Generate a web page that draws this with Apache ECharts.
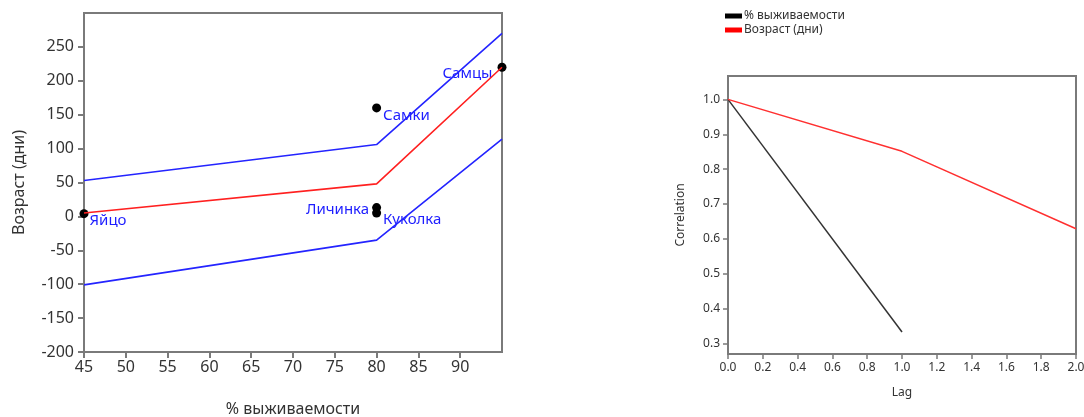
<!DOCTYPE html>
<html lang="ru">
<head>
<meta charset="UTF-8">
<title>Возраст и выживаемость</title>
<script src="https://cdn.jsdelivr.net/npm/echarts@6/dist/echarts.min.js"></script>
<style>
  html, body { margin: 0; padding: 0; background: #fff; }
  #main { width: 1084px; height: 417px; }
</style>
</head>
<body>
<div id="main"></div>
<script>
// left panel: regression of age on survival
var survivalX = [45, 80, 95];
var fitAge = [5, 48, 220];
var upperAge = [53, 106, 270];
var lowerAge = [-101, -35, 114];

var stageNames = ['Яйцо', 'Личинка', 'Куколка', 'Самки', 'Самцы'];
var stageSurvival = [45, 80, 80, 80, 95];
var stageAge = [4, 13, 5, 160, 220];

var leftXTicks = [45, 50, 55, 60, 65, 70, 75, 80, 85, 90];
var leftYTicks = [-200, -150, -100, -50, 0, 50, 100, 150, 200, 250];

// right panel: autocorrelation
var lags = [0, 1, 2];
var acfSurvival = [1.0, 0.333];
var acfAge = [1.0, 0.851, 0.629];
var rightYTicks = [0.3, 0.4, 0.5, 0.6, 0.7, 0.8, 0.9, 1.0];

var font = 'Noto Sans';
var frame = '#7a7a7a';

// label placement per stage
var labelPos = {
  'Яйцо':    { position: 'right', distance: 1, offset: [0, 7] },
  'Личинка': { position: 'left',  distance: 3, offset: [0, 2] },
  'Куколка': { position: 'right', distance: 2, offset: [0, 7] },
  'Самки':   { position: 'right', distance: 2, offset: [0, 8] },
  'Самцы':   { position: 'left',  distance: 5, offset: [0, 6] }
};

var points = [];
for (var i = 0; i < stageNames.length; i++) {
  var lp = labelPos[stageNames[i]];
  points.push({
    name: stageNames[i],
    value: [stageSurvival[i], stageAge[i]],
    label: { position: lp.position, distance: lp.distance, offset: lp.offset }
  });
}

function pairs(xs, ys) {
  var out = [];
  for (var i = 0; i < ys.length; i++) out.push([xs[i], ys[i]]);
  return out;
}

var chart = echarts.init(document.getElementById('main'));
chart.setOption({
  animation: false,
  textStyle: { fontFamily: font },
  legend: {
    data: ['% выживаемости', 'Возраст (дни)'],
    orient: 'vertical',
    left: 720, top: 5,
    icon: 'rect',
    itemWidth: 17, itemHeight: 5,
    itemGap: 2,
    textStyle: { fontSize: 12, color: '#333', fontFamily: font, padding: [0, 0, 0, -3] }
  },
  grid: [
    { left: 84, right: 582, top: 13, bottom: 65, show: true, borderColor: frame, borderWidth: 2,
      outerBoundsMode: 'none' },
    { left: 728, right: 8, top: 76, bottom: 63, show: true, borderColor: frame, borderWidth: 2,
      outerBoundsMode: 'none' }
  ],
  xAxis: [
    {
      gridIndex: 0, type: 'value', min: 45, max: 95,
      name: '% выживаемости', nameLocation: 'middle', nameGap: 49,
      nameTextStyle: { fontSize: 16, color: '#333' },
      axisLine: { show: false, onZero: false },
      axisTick: { show: true, length: 6, lineStyle: { color: frame, width: 2 }, customValues: leftXTicks },
      axisLabel: { fontSize: 16, color: '#333', margin: 7, customValues: leftXTicks },
      splitLine: { show: false }
    },
    {
      gridIndex: 1, type: 'value', min: 0, max: 2, interval: 0.2,
      name: 'Lag', nameLocation: 'middle', nameGap: 33,
      nameTextStyle: { fontSize: 12, color: '#333' },
      axisLine: { show: false, onZero: false },
      axisTick: { show: true, length: 5, lineStyle: { color: frame, width: 1.5 } },
      axisLabel: { fontSize: 12, color: '#333', margin: 8, showMaxLabel: true,
        formatter: function (v) { return v.toFixed(1); } },
      splitLine: { show: false }
    }
  ],
  yAxis: [
    {
      gridIndex: 0, type: 'value', min: -200, max: 300,
      name: 'Возраст (дни)', nameLocation: 'middle', nameGap: 57, nameRotate: 90,
      nameTextStyle: { fontSize: 16, color: '#333' },
      axisLine: { show: false, onZero: false },
      axisTick: { show: true, length: 6, lineStyle: { color: frame, width: 2 }, customValues: leftYTicks },
      axisLabel: { fontSize: 16, color: '#333', margin: 10, customValues: leftYTicks },
      splitLine: { show: false }
    },
    {
      gridIndex: 1, type: 'value', min: 0.27, max: 1.067,
      name: 'Correlation', nameLocation: 'middle', nameGap: 41, nameRotate: 90,
      nameTextStyle: { fontSize: 12, color: '#333' },
      axisLine: { show: false, onZero: false },
      axisTick: { show: true, length: 5, lineStyle: { color: frame, width: 1.5 }, customValues: rightYTicks },
      axisLabel: { fontSize: 12, color: '#333', margin: 8, customValues: rightYTicks,
        formatter: function (v) { return v.toFixed(1); } },
      splitLine: { show: false }
    }
  ],
  series: [
    {
      type: 'line', xAxisIndex: 0, yAxisIndex: 0, data: pairs(survivalX, upperAge),
      showSymbol: false, lineStyle: { color: '#2424ff', width: 1.6 }, silent: true
    },
    {
      type: 'line', xAxisIndex: 0, yAxisIndex: 0, data: pairs(survivalX, lowerAge),
      showSymbol: false, lineStyle: { color: '#2424ff', width: 1.6 }, silent: true
    },
    {
      type: 'line', xAxisIndex: 0, yAxisIndex: 0, data: pairs(survivalX, fitAge),
      showSymbol: false, lineStyle: { color: '#ff2020', width: 1.6 }, silent: true
    },
    {
      type: 'scatter', xAxisIndex: 0, yAxisIndex: 0, data: points,
      symbolSize: 9, itemStyle: { color: '#000', opacity: 1 }, clip: false,
      label: { show: true, formatter: '{b}', color: '#1e1eff', fontSize: 15, fontFamily: font }
    },
    {
      name: '% выживаемости', type: 'line', xAxisIndex: 1, yAxisIndex: 1,
      data: pairs(lags, acfSurvival), showSymbol: false,
      itemStyle: { color: '#000' }, lineStyle: { color: '#333', width: 1.5 }
    },
    {
      name: 'Возраст (дни)', type: 'line', xAxisIndex: 1, yAxisIndex: 1,
      data: pairs(lags, acfAge), showSymbol: false,
      itemStyle: { color: '#ff0000' }, lineStyle: { color: '#ff3030', width: 1.5 }
    }
  ]
});
</script>
</body>
</html>
